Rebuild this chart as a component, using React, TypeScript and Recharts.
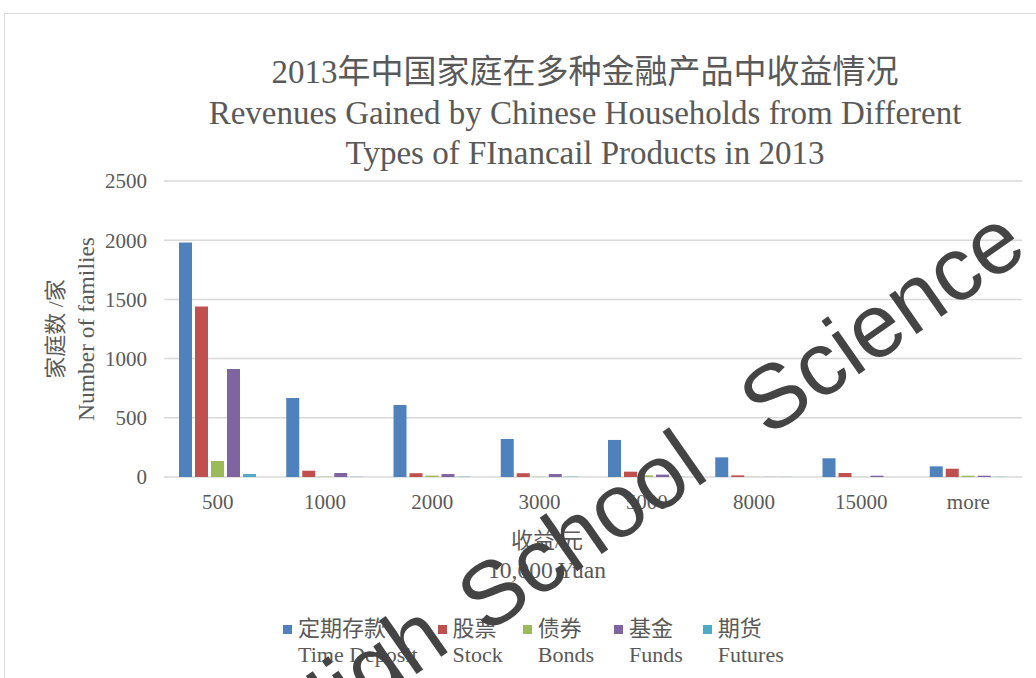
import React from 'react';
import { BarChart, Bar, XAxis, YAxis, CartesianGrid, Legend } from 'recharts';

// income brackets (x axis) and families per product
const categories = ['500', '1000', '2000', '3000', '5000', '8000', '15000', 'more'];
const timeDeposit = [1980, 668, 608, 321, 313, 166, 158, 90];
const stock = [1440, 53, 32, 32, 45, 14, 34, 70];
const bonds = [135, 3, 12, 2, 14, 1, 1, 11];
const funds = [913, 34, 25, 25, 20, 1, 11, 11];
const futures = [25, 2, 3, 3, 2, 1, 0, 2];
const yTicks = [0, 500, 1000, 1500, 2000, 2500];

const seriesZh = ['定期存款', '股票', '债券', '基金', '期货'];
const seriesEn = ['Time Deposit', 'Stock', 'Bonds', 'Funds', 'Futures'];
const colors = ['#4F81BD', '#C0504D', '#9BBB59', '#8064A2', '#4BACC6'];

const chartData = categories.map((c, i) => ({
  name: c,
  td: timeDeposit[i],
  st: stock[i],
  bo: bonds[i],
  fu: funds[i],
  ft: futures[i]
}));
const keys = ['td', 'st', 'bo', 'fu', 'ft'];

const FONT = '"Liberation Serif", "Times New Roman", "Noto Sans CJK SC", serif';
const GREY = '#595959';

const YLabel = (props: any) => {
  const vb = props.viewBox || { x: 0, y: 181, width: 164, height: 296 };
  const cy = vb.y + vb.height / 2;
  return (
    <g fill={GREY} fontFamily={FONT} fontSize={23.5}>
      <text x={55} y={cy} fontSize={22} textAnchor="middle" dominantBaseline="central" transform={`rotate(-90, 55, ${cy})`}>家庭数 /家</text>
      <text x={86} y={cy} textAnchor="middle" dominantBaseline="central" transform={`rotate(-90, 86, ${cy})`}>Number of families</text>
    </g>
  );
};

const XLabel = () => (
  <g fill={GREY} fontFamily={FONT} fontSize={23.5}>
    <text x={547} y={540} fontSize={22} textAnchor="middle" dominantBaseline="central">收益/元</text>
    <text x={547} y={570} textAnchor="middle" dominantBaseline="central">10,000 Yuan</text>
  </g>
);

const LegendBox = (props: any) => {
  const payload = props.payload || [];
  // keep the series order of the bars, not the legend's sorted order
  const items = keys.map((k) => payload.find((p: any) => p.dataKey === k)).filter(Boolean);
  return (
    <div style={{ display: 'flex', fontFamily: FONT, fontSize: 22, color: GREY, lineHeight: '26px' }}>
      {items.map((p: any) => {
        const i = keys.indexOf(p.dataKey);
        return (
          <div key={p.dataKey} style={{ display: 'flex', alignItems: 'flex-start', marginRight: 20 }}>
            <div style={{ width: 9, height: 9, background: colors[i], marginTop: 9, marginRight: 6 }} />
            <div>
              <div>{seriesZh[i]}</div>
              <div>{seriesEn[i]}</div>
            </div>
          </div>
        );
      })}
    </div>
  );
};

export default function App() {
  return (
    <div style={{ position: 'absolute', left: 0, top: 0, width: 1036, height: 678, overflow: 'hidden', background: '#fff' }}>
      {/* chart frame */}
      <div style={{ position: 'absolute', left: 4, top: 13, width: 1100, height: 720, border: '1.5px solid #d9d9d9' }} />

      {/* title */}
      <div style={{ position: 'absolute', left: 185, top: 51, width: 800, textAlign: 'center', fontFamily: FONT, color: GREY, fontSize: 33, lineHeight: '40px' }}>
        <div style={{ lineHeight: '42px' }}>2013年中国家庭在多种金融产品中收益情况</div>
        <div>Revenues Gained by Chinese Households from Different</div>
        <div>Types of FInancail Products in 2013</div>
      </div>

      <div style={{ position: 'absolute', left: 0, top: 0 }}>
        <BarChart width={1036} height={678} data={chartData}
          margin={{ top: 181, right: 14, left: 0, bottom: 171 }}
          barSize={13} barGap={3}>
          <CartesianGrid vertical={false} stroke="#d9d9d9" strokeWidth={1.5} />
          <XAxis dataKey="name" axisLine={false} tickLine={false} tickSize={0} tickMargin={17} height={30}
            tick={{ fill: GREY, fontSize: 21, fontFamily: FONT }} interval={0} label={<XLabel />} />
          <YAxis width={164} domain={[0, 2500]} ticks={yTicks} axisLine={false} tickLine={false} tickSize={0} tickMargin={17}
            tick={{ fill: GREY, fontSize: 21, fontFamily: FONT }} label={<YLabel />} />
          <Legend layout="horizontal" verticalAlign="middle" align="center" content={<LegendBox />}
            wrapperStyle={{ left: 283, top: 616, width: 620, height: 60 }} />
          {keys.map((k, i) => (
            <Bar key={k} dataKey={k} name={seriesZh[i]} fill={colors[i]} isAnimationActive={false} />
          ))}
        </BarChart>
      </div>

      {/* watermark */}
      <svg width={1036} height={678} style={{ position: 'absolute', left: 0, top: 0, pointerEvents: 'none' }}>
        <g fontFamily='"Liberation Sans", Arial, sans-serif' fontSize={90} fill="#444444">
          <text x={301} y={755} transform="rotate(-35, 301, 755)">High</text>
          <text x={486} y={635} transform="rotate(-35, 486, 635)">School</text>
          <text x={768} y={438} transform="rotate(-35, 768, 438)">Science</text>
        </g>
      </svg>
    </div>
  );
}
